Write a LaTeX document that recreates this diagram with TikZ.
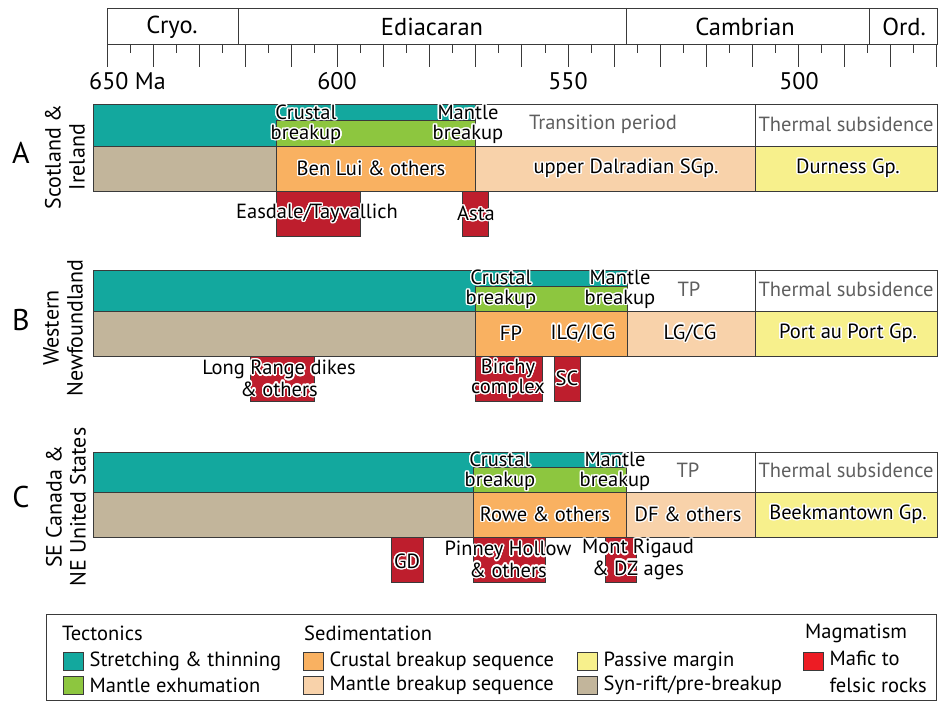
\documentclass[tikz,border=0pt]{standalone}
\usepackage{fontspec}
\setmainfont{PT Sans}
\usepackage[copies]{contour}
\contourlength{1.4pt}
\contournumber{20}
\usetikzlibrary{positioning}
\definecolor{stretch}{HTML}{13A89E}
\definecolor{exhume}{HTML}{8DC63F}
\definecolor{synrift}{HTML}{C2B59B}
\definecolor{crustseq}{HTML}{F9B161}
\definecolor{mantleseq}{HTML}{F8D2AA}
\definecolor{passive}{HTML}{F7F08C}
\definecolor{mafic}{HTML}{BE1E2D}
\definecolor{mafickey}{HTML}{ED1C24}
\definecolor{edge}{HTML}{3A3A3A}
\definecolor{faded}{HTML}{5E5E5E}
\newcommand{\halo}[1]{\contour{white}{#1}}
\tikzset{
unit/.style = {draw=edge, line width=0.9pt},
era/.style = {font=\fontsize{24.5}{25}\selectfont, inner sep=0pt},
age/.style = {font=\fontsize{24}{25}\selectfont, inner sep=0pt, anchor=base},
tag/.style = {font=\fontsize{20.5}{20}\selectfont, align=center, inner sep=0pt},
note/.style = {tag, text=faded},
region/.style = {font=\fontsize{22}{24}\selectfont, align=center, rotate=90, inner sep=0pt},
letter/.style = {font=\fontsize{30}{30}\selectfont, inner sep=0pt},
swatch/.style = {draw=edge, line width=0.9pt, minimum width=20pt, minimum height=18pt, inner sep=0pt},
keytext/.style = {font=\fontsize{20.5}{27}\selectfont, inner sep=0pt, anchor=west, align=left}
}

\begin{document}
\begin{tikzpicture}[x=1pt,y=-1pt]
\useasboundingbox (0,0) rectangle (938,701);
% time scale
\draw[unit] (107,8) rectangle (937,44);
\foreach \xb in {238,626,869} \draw[unit] (\xb,8) -- (\xb,44);
\node[era] (cryo) at (172,27) {Cryo.};
\node[era] (edia) at (432,27) {Ediacaran};
\node[era] (camb) at (745,27) {Cambrian};
\node[era] (ordo) at (904,27) {Ord.};
\foreach \i in {0,...,36}{
  \ifodd\i \def\len{9}\else\def\len{23}\fi
  \draw[unit] (107+\i*23.05,44) -- ++(0,\len);
}
\node[age, anchor=base west] (a650) at (89,89) {650 Ma};
\node[age] (a600) at (337,89) {600};
\node[age] (a550) at (568,89) {550};
\node[age] (a500) at (799,89) {500};

% panel A
\draw[unit, fill=stretch] (93,104) rectangle (475,146);
\draw[unit, fill=exhume] (276,120) rectangle (475,146);
\draw[unit] (475,104) rectangle (755,146);
\draw[unit] (755,104) rectangle (937,146);
\draw[unit, fill=synrift] (93,146) rectangle (276,191);
\draw[unit, fill=crustseq] (276,146) rectangle (475,191);
\draw[unit, fill=mantleseq] (475,146) rectangle (755,191);
\draw[unit, fill=passive] (755,146) rectangle (937,191);
\draw[unit, fill=mafic] (276,191) rectangle (360,236);
\draw[unit, fill=mafic] (462,191) rectangle (488,236);
\node[letter] (letA) at (21,153) {A};
\node[region] (regA) at (65,157) {Scotland \&\\Ireland};
\node[tag] (cbA) at (306,125) {\halo{Crustal}\\\halo{breakup}};
\node[tag] (mbA) at (468,125) {\halo{Mantle}\\\halo{breakup}};
\node[note] (tpA) at (603,124) {Transition period};
\node[note] (tsA) at (846,124) {Thermal subsidence};
\node[tag] (seqA1) at (371,169) {\halo{Ben Lui \& others}};
\node[tag] (seqA2) at (626,169) {\halo{upper Dalradian SGp.}};
\node[tag] (seqA3) at (848,169) {\halo{Durness Gp.}};
\node[tag] (magA1) at (317,214) {\halo{Easdale/Tayvallich}};
\node[tag] (magA2) at (476,214) {\halo{Asta}};

% panel B
\draw[unit, fill=stretch] (93,270) rectangle (627,311);
\draw[unit, fill=exhume] (475,286) rectangle (627,311);
\draw[unit] (627,270) rectangle (755,311);
\draw[unit] (755,270) rectangle (937,311);
\draw[unit, fill=synrift] (93,311) rectangle (475,356);
\draw[unit, fill=crustseq] (475,311) rectangle (627,356);
\draw[unit, fill=mantleseq] (627,311) rectangle (755,356);
\draw[unit, fill=passive] (755,311) rectangle (937,356);
\draw[unit, fill=mafic] (250,356) rectangle (314,401);
\draw[unit, fill=mafic] (475,356) rectangle (542,401);
\draw[unit, fill=mafic] (554,356) rectangle (580,401);
\node[letter] (letB) at (21,320) {B};
\node[region] (regB) at (63,328) {Western\\Newfoundland};
\node[tag] (cbB) at (501,290) {\halo{Crustal}\\\halo{breakup}};
\node[tag] (mbB) at (620,290) {\halo{Mantle}\\\halo{breakup}};
\node[note] (tpB) at (689,289) {TP};
\node[note] (tsB) at (846,289) {Thermal subsidence};
\node[tag] (seqB1) at (511,334) {\halo{FP}};
\node[tag] (seqB2) at (583,334) {\halo{ILG/ICG}};
\node[tag] (seqB3) at (690,334) {\halo{LG/CG}};
\node[tag] (seqB4) at (848,334) {\halo{Port au Port Gp.}};
\node[tag] (magB1) at (279,379) {\halo{Long Range dikes}\\\halo{\& others}};
\node[tag] (magB2) at (508,379) {\halo{Birchy}\\\halo{complex}};
\node[tag] (magB3) at (567,379) {\halo{SC}};

% panel C
\draw[unit, fill=stretch] (93,452) rectangle (626,492);
\draw[unit, fill=exhume] (473,467) rectangle (626,492);
\draw[unit] (626,452) rectangle (755,492);
\draw[unit] (755,452) rectangle (937,492);
\draw[unit, fill=synrift] (93,492) rectangle (473,537);
\draw[unit, fill=crustseq] (473,492) rectangle (626,537);
\draw[unit, fill=mantleseq] (626,492) rectangle (755,537);
\draw[unit, fill=passive] (755,492) rectangle (937,537);
\draw[unit, fill=mafic] (391,537) rectangle (423,582);
\draw[unit, fill=mafic] (473,537) rectangle (545,582);
\draw[unit, fill=mafic] (605,537) rectangle (636,582);
\node[letter] (letC) at (21,497) {C};
\node[region] (regC) at (66,507) {SE Canada \&\\NE United States};
\node[tag] (cbC) at (500,472) {\halo{Crustal}\\\halo{breakup}};
\node[tag] (mbC) at (615,472) {\halo{Mantle}\\\halo{breakup}};
\node[note] (tpC) at (688,470) {TP};
\node[note] (tsC) at (846,470) {Thermal subsidence};
\node[tag] (seqC1) at (545,515) {\halo{Rowe \& others}};
\node[tag] (seqC2) at (688,515) {\halo{DF \& others}};
\node[tag] (seqC3) at (848,515) {\halo{Beekmantown Gp.}};
\node[tag] (magC1) at (407,562) {\halo{GD}};
\node[tag] (magC2) at (508,560) {\halo{Pinney Hollow}\\\halo{\& others}};
\node[tag] (magC3) at (638,560) {\halo{Mont Rigaud}\\\halo{\& DZ ages}};

% legend
\draw[unit] (46,614) rectangle (936,700);
\node[keytext] (hTec) at (62,633) {Tectonics};
\node[keytext] (hSed) at (304,633) {Sedimentation};
\node[keytext] (hMag) at (805,633) {Magmatism};
\node[swatch, fill=stretch] (k1) at (73,661) {};
\node[swatch, fill=exhume] (k2) at (73,685) {};
\node[swatch, fill=crustseq] (k3) at (313,661) {};
\node[swatch, fill=mantleseq] (k4) at (313,685) {};
\node[swatch, fill=passive] (k5) at (587,661) {};
\node[swatch, fill=synrift] (k6) at (587,685) {};
\node[swatch, fill=mafickey] (k7) at (813,661) {};
\node[keytext, right=6pt of k1] {Stretching \& thinning};
\node[keytext, right=6pt of k2] {Mantle exhumation};
\node[keytext, right=6pt of k3] {Crustal breakup sequence};
\node[keytext, right=6pt of k4] {Mantle breakup sequence};
\node[keytext, right=6pt of k5] {Passive margin};
\node[keytext, right=6pt of k6] {Syn-rift/pre-breakup};
\node[keytext, right=6pt of k7, anchor=north west, yshift=10pt] {Mafic to\\felsic rocks};
\end{tikzpicture}
\end{document}
